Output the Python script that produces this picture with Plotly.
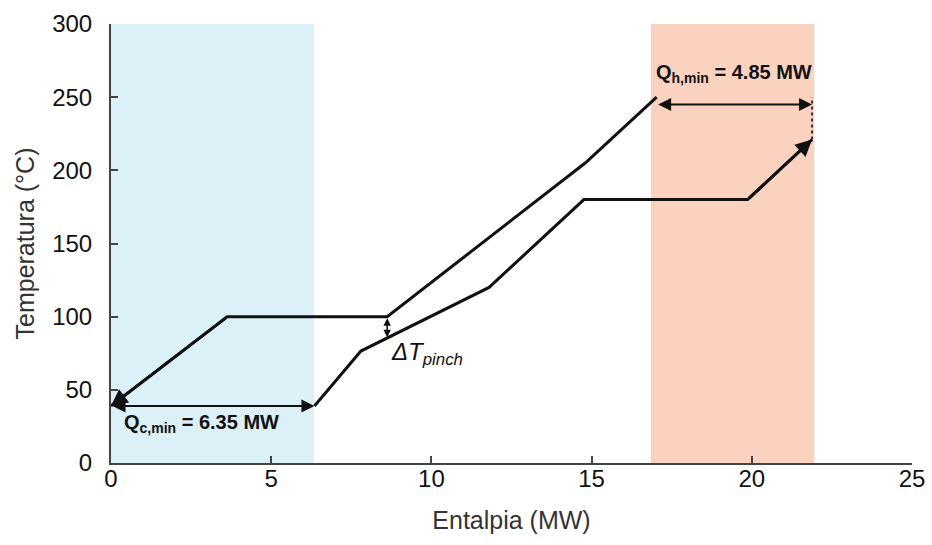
import plotly.graph_objects as go

# Composite curves (enthalpy in MW, temperature in °C)
hot_H = [17.03, 14.8, 8.62, 3.63, 0.0]
hot_T = [250, 205, 100, 100, 39]
cold_H = [6.35, 7.8, 11.8, 14.76, 19.87, 21.88]
cold_T = [39, 76.5, 120, 180, 180, 221]

# Minimum utilities
Qc_min = 6.35
Qh_min = 4.85
cold_utility_band = [0.0, 6.33]
hot_utility_band = [16.85, 21.95]
pinch_H = 8.62
pinch_T = [100, 86]

x_ticks = [0, 5, 10, 15, 20, 25]
y_ticks = [0, 50, 100, 150, 200, 250, 300]

FONT = "Liberation Sans, Arial, sans-serif"
INK = "#111111"
AXIS = "#444444"

fig = go.Figure()

# utility bands
fig.add_shape(type="rect", xref="x", yref="y", x0=cold_utility_band[0], x1=cold_utility_band[1],
              y0=0, y1=300, fillcolor="#dcf0f7", line_width=0, layer="below")
fig.add_shape(type="rect", xref="x", yref="y", x0=hot_utility_band[0], x1=hot_utility_band[1],
              y0=0, y1=300, fillcolor="#fbd2c0", line_width=0, layer="below")

# hot and cold composite curves
fig.add_trace(go.Scatter(x=hot_H, y=hot_T, mode="lines",
                         line=dict(color=INK, width=3), showlegend=False, hoverinfo="skip"))
fig.add_trace(go.Scatter(x=cold_H, y=cold_T, mode="lines",
                         line=dict(color=INK, width=3), showlegend=False, hoverinfo="skip"))

# dotted gap between the hot end and the cold end
fig.add_trace(go.Scatter(x=[cold_H[-1], cold_H[-1]], y=[cold_T[-1], hot_T[0]], mode="lines",
                         line=dict(color="#333333", width=2, dash="dot"),
                         showlegend=False, hoverinfo="skip"))

annotations = []

# arrow heads at the ends of the composite curves
for H, T in ((hot_H, hot_T), (cold_H, cold_T)):
    annotations.append(dict(x=H[-1], y=T[-1], ax=H[-2], ay=T[-2], xref="x", yref="y",
                            axref="x", ayref="y", text="", showarrow=True,
                            arrowhead=2, arrowsize=1.1, arrowwidth=3, arrowcolor=INK))

# Qc,min double arrow
qc_y = hot_T[-1]
annotations.append(dict(x=cold_H[0], y=qc_y, ax=cold_H[0] - Qc_min, ay=qc_y, xref="x", yref="y",
                        axref="x", ayref="y", text="", showarrow=True, arrowside="end+start",
                        arrowhead=2, arrowsize=1.3, arrowwidth=2, arrowcolor=INK))
# Qh,min double arrow
qh_y = 245
annotations.append(dict(x=cold_H[-1], y=qh_y, ax=cold_H[-1] - Qh_min, ay=qh_y, xref="x", yref="y",
                        axref="x", ayref="y", text="", showarrow=True, arrowside="end+start",
                        arrowhead=2, arrowsize=1.3, arrowwidth=2, arrowcolor=INK))
# pinch double arrow
annotations.append(dict(x=pinch_H, y=pinch_T[1], ax=pinch_H, ay=pinch_T[0], xref="x", yref="y",
                        axref="x", ayref="y", text="", showarrow=True, arrowside="end+start",
                        arrowhead=2, arrowsize=1.0, arrowwidth=1.5, arrowcolor=INK))

# labels
annotations.append(dict(x=2.82, y=27, xref="x", yref="y", showarrow=False,
                        text="<b>Q<sub>c,min</sub> = %.2f MW</b>" % Qc_min,
                        font=dict(family=FONT, size=20, color=INK)))
annotations.append(dict(x=19.45, y=266, xref="x", yref="y", showarrow=False,
                        text="<b>Q<sub>h,min</sub> = %.2f MW</b>" % Qh_min,
                        font=dict(family=FONT, size=20, color=INK)))
annotations.append(dict(x=9.85, y=75, xref="x", yref="y", showarrow=False,
                        text="<i>ΔT<sub>pinch</sub></i>",
                        font=dict(family=FONT, size=24, color=INK)))

fig.update_layout(
    width=932, height=545,
    margin=dict(l=111, r=20, t=24, b=82),
    paper_bgcolor="white", plot_bgcolor="white",
    annotations=annotations,
    font=dict(family=FONT, color="#222222"),
    xaxis=dict(range=[0, 25], tickvals=x_ticks, ticks="inside", ticklen=7, tickwidth=1.5,
               tickcolor=AXIS, showline=True, linecolor=AXIS, linewidth=2, showgrid=False,
               zeroline=False, tickfont=dict(size=24, color="#111111"), ticklabelstandoff=-7,
               automargin=False,
               title=dict(text="Entalpia (MW)", font=dict(size=25, color="#333333"), standoff=21)),
    yaxis=dict(range=[0, 300], tickvals=y_ticks, ticks="inside", ticklen=7, tickwidth=1.5,
               tickcolor=AXIS, showline=True, linecolor=AXIS, linewidth=2, showgrid=False,
               zeroline=False, tickfont=dict(size=24, color="#111111"), ticklabelstandoff=12,
               automargin=False,
               title=dict(text="Temperatura (°C)", font=dict(size=25, color="#333333"), standoff=10)),
)

fig.write_html("out.html")
